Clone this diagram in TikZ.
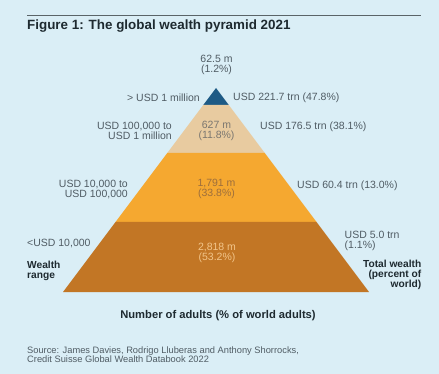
\documentclass[tikz,border=0pt]{standalone}
\usepackage{fontspec}
\setmainfont{Liberation Sans}
\definecolor{bg}{HTML}{DAEEF6}
\definecolor{navy}{HTML}{1D5A85}
\definecolor{tan}{HTML}{E8CBA0}
\definecolor{orng}{HTML}{F5A830}
\definecolor{brwn}{HTML}{C27625}
\definecolor{txt}{HTML}{505C64}
\definecolor{dark}{HTML}{1E2A30}
\definecolor{rulec}{HTML}{5A6468}
\definecolor{lighttxt}{HTML}{F2C58A}
\definecolor{midtxt}{HTML}{9C6E3C}
\definecolor{graytxt}{HTML}{7A7670}
\tikzset{
  lbl/.style={inner sep=0pt, text=txt, font=\fontsize{10.5}{10}\selectfont},
  lblL/.style={lbl, anchor=east, align=right},
  lblR/.style={lbl, anchor=west, align=left},
  lblC/.style={lbl, anchor=center, align=center},
  bold/.style={inner sep=0pt, text=dark, font=\fontsize{10.2}{9.5}\selectfont\bfseries}
}
\begin{document}
\begin{tikzpicture}[x=1pt,y=-1pt]
\fill[bg] (0,0) rectangle (439,374);
\useasboundingbox (0,0) rectangle (439,374);
% rule and title
\coordinate (r1) at (27,15);
\coordinate (r2) at (421,15);
\draw[rulec, line width=0.9pt] (r1) -- (r2);
\node[anchor=base west, inner sep=0pt, text=dark, font=\fontsize{13.4}{15}\selectfont\bfseries] (title) at (27,30) {Figure 1: The global wealth pyramid 2021};
% pyramid tiers: apex (216,88), half width 0.75*(y-88)
\fill[navy] (216,88) -- (228.75,105) -- (203.25,105) -- cycle;
\fill[tan] (203.25,105) -- (228.75,105) -- (264.75,153) -- (167.25,153) -- cycle;
\fill[orng] (167.25,153) -- (264.75,153) -- (316.5,222) -- (115.5,222) -- cycle;
\fill[brwn] (115.5,222) -- (316.5,222) -- (369,292) -- (63,292) -- cycle;
% top
\node[lblC] (n1) at (216.5,65) {62.5 m\\(1.2\%)};
\node[lblL] (w1) at (200,98) {> USD 1 million};
\node[lblR] (t1) at (233,98) {USD 221.7 trn (47.8\%)};
% tier 2
\node[lblC, text=graytxt] (n2) at (216.5,131) {627 m\\(11.8\%)};
\node[lblL] (w2) at (172,131) {USD 100,000 to\\USD 1 million};
\node[lblR] (t2) at (260,126.5) {USD 176.5 trn (38.1\%)};
% tier 3
\node[lblC, text=midtxt] (n3) at (216.5,189) {1,791 m\\(33.8\%)};
\node[lblL] (w3) at (128,190) {USD 10,000 to\\USD 100,000};
\node[lblR] (t3) at (297,186) {USD 60.4 trn (13.0\%)};
% tier 4
\node[lblC, text=lighttxt] (n4) at (217,253) {2,818 m\\(53.2\%)};
\node[lblR] (w4) at (27,243.5) {<USD 10,000};
\node[lblR] (t4) at (344.5,241) {USD 5.0 trn\\(1.1\%)};
% axis labels
\node[bold, anchor=west, align=left] (wr) at (27,271) {Wealth\\range};
\node[bold, anchor=east, align=right] (tw) at (421.5,275) {Total wealth\\(percent of\\world)};
\node[bold, anchor=center, font=\fontsize{11.2}{12}\selectfont\bfseries] (na) at (218,315.5) {Number of adults (\% of world adults)};
% source
\node[inner sep=0pt, anchor=west, align=left, text=txt, font=\fontsize{9.3}{8.8}\selectfont] (src) at (27,355) {Source: James Davies, Rodrigo Lluberas and Anthony Shorrocks,\\Credit Suisse Global Wealth Databook 2022};
\end{tikzpicture}
\end{document}
